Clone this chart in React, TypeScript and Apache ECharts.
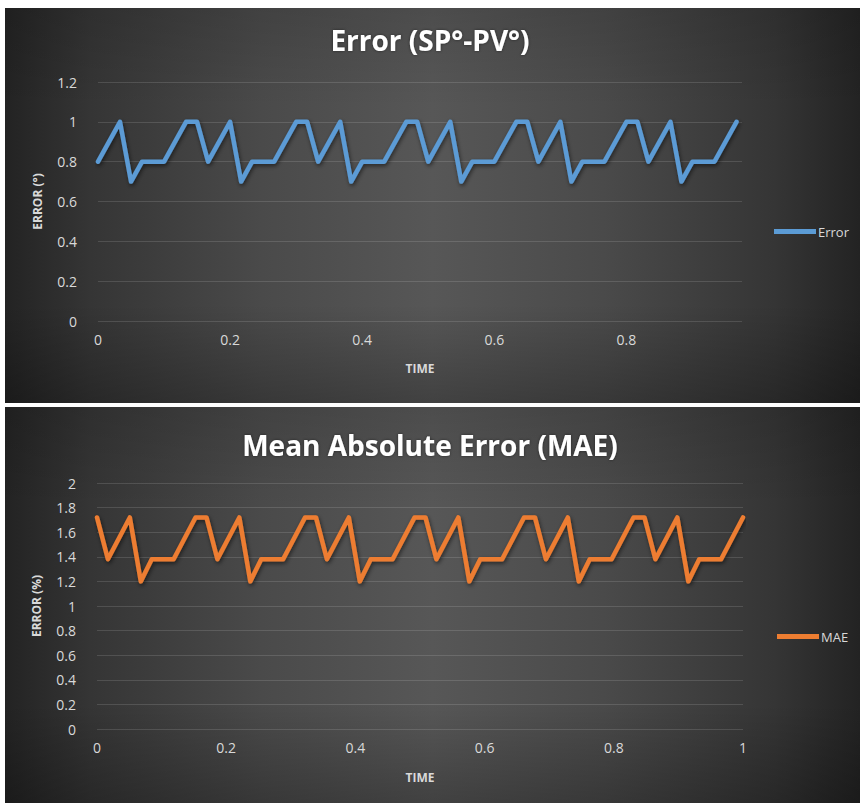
import React, { useEffect, useRef } from "react";
import * as echarts from "echarts";

// ---- Data ----
const ERROR_TIME = [
  0, 0.0333, 0.05, 0.0667, 0.1, 0.1333, 0.15,
  0.1667, 0.2, 0.2167, 0.2333, 0.2667, 0.3, 0.3167,
  0.3333, 0.3667, 0.3833, 0.4, 0.4333, 0.4667, 0.4833,
  0.5, 0.5333, 0.55, 0.5667, 0.6, 0.6333, 0.65,
  0.6667, 0.7, 0.7167, 0.7333, 0.7667, 0.8, 0.8167,
  0.8333, 0.8667, 0.8833, 0.9, 0.9333, 0.9667,
];
const ERROR_VALUES = [
  0.8, 1, 0.7, 0.8, 0.8, 1, 1,
  0.8, 1, 0.7, 0.8, 0.8, 1, 1,
  0.8, 1, 0.7, 0.8, 0.8, 1, 1,
  0.8, 1, 0.7, 0.8, 0.8, 1, 1,
  0.8, 1, 0.7, 0.8, 0.8, 1, 1,
  0.8, 1, 0.7, 0.8, 0.8, 1,
];

const MAE_TIME = [
  0, 0.0169, 0.0508, 0.0678, 0.0847, 0.1186, 0.1525,
  0.1695, 0.1864, 0.2203, 0.2373, 0.2542, 0.2881, 0.322,
  0.339, 0.3559, 0.3898, 0.4068, 0.4237, 0.4576, 0.4915,
  0.5085, 0.5254, 0.5593, 0.5763, 0.5932, 0.6271, 0.661,
  0.678, 0.6949, 0.7288, 0.7458, 0.7627, 0.7966, 0.8305,
  0.8475, 0.8644, 0.8983, 0.9153, 0.9322, 0.9661, 1,
];
const MAE_VALUES = [
  1.72, 1.38, 1.72, 1.2, 1.38, 1.38, 1.72,
  1.72, 1.38, 1.72, 1.2, 1.38, 1.38, 1.72,
  1.72, 1.38, 1.72, 1.2, 1.38, 1.38, 1.72,
  1.72, 1.38, 1.72, 1.2, 1.38, 1.38, 1.72,
  1.72, 1.38, 1.72, 1.2, 1.38, 1.38, 1.72,
  1.72, 1.38, 1.72, 1.2, 1.38, 1.38, 1.72,
];

const TITLES = ["Error (SP°-PV°)", "Mean Absolute Error (MAE)"];
const SERIES_NAMES = ["Error", "MAE"];
const Y_NAMES = ["ERROR (°)", "ERROR (%)"];
const X_NAME = "TIME";

const BLUE = "#5B9BD5";
const ORANGE = "#ED7D31";
const LABEL = "#d9d9d9";
const FONT = '"Open Sans", "Noto Sans", sans-serif';

function panel(x: number, y: number, w: number, h: number) {
  return [
    {
      type: "rect",
      z: -20,
      shape: { x, y, width: w, height: h },
      style: {
        fill: {
          type: "linear",
          x: 0, y: 0, x2: 1, y2: 0,
          colorStops: [
            { offset: 0, color: "#232323" },
            { offset: 0.1, color: "#353535" },
            { offset: 0.3, color: "#4a4a4a" },
            { offset: 0.5, color: "#575757" },
            { offset: 0.7, color: "#4a4a4a" },
            { offset: 0.9, color: "#353535" },
            { offset: 1, color: "#232323" },
          ],
        },
      },
    },
    {
      type: "rect",
      z: -19,
      shape: { x, y, width: w, height: h },
      style: {
        fill: {
          type: "linear",
          x: 0, y: 0, x2: 0, y2: 1,
          colorStops: [
            { offset: 0, color: "rgba(0,0,0,0.12)" },
            { offset: 0.25, color: "rgba(0,0,0,0)" },
            { offset: 0.75, color: "rgba(0,0,0,0)" },
            { offset: 1, color: "rgba(0,0,0,0.25)" },
          ],
        },
      },
    },
  ];
}

function makeXAxis(gridIndex: number, max: number, showMax: boolean, nameGap: number) {
  return {
    type: "value",
    gridIndex,
    min: 0,
    max,
    interval: 0.2,
    name: X_NAME,
    nameLocation: "middle",
    nameGap,
    nameTextStyle: { color: LABEL, fontSize: 12, fontWeight: "bold", fontFamily: FONT },
    axisLine: { show: false },
    axisTick: { show: false },
    splitLine: { show: false },
    axisLabel: {
      color: LABEL,
      fontSize: 14,
      fontFamily: FONT,
      margin: 11,
      showMaxLabel: showMax,
    },
  };
}

function makeYAxis(gridIndex: number, max: number, name: string) {
  return {
    type: "value",
    gridIndex,
    min: 0,
    max,
    interval: 0.2,
    name,
    nameLocation: "middle",
    nameGap: 55,
    nameTextStyle: { color: LABEL, fontSize: 12, fontWeight: "bold", fontFamily: FONT },
    axisLine: { show: false },
    axisTick: { show: false },
    splitLine: { show: true, lineStyle: { color: "rgba(255,255,255,0.13)", width: 1 } },
    axisLabel: { color: LABEL, fontSize: 14, fontFamily: FONT, margin: 21 },
  };
}

function makeSeries(name: string, idx: number, xs: number[], ys: number[], color: string) {
  return {
    type: "line",
    name,
    xAxisIndex: idx,
    yAxisIndex: idx,
    data: xs.map((t, i) => [t, ys[i]]),
    showSymbol: false,
    symbol: "none",
    color,
    lineStyle: {
      width: 4.5,
      color,
      cap: "round",
      join: "round",
      shadowColor: "rgba(0,0,0,0.55)",
      shadowBlur: 4,
      shadowOffsetX: 1,
      shadowOffsetY: 2,
    },
  };
}

function titleOpt(text: string, top: number) {
  return {
    text,
    left: "center",
    top,
    padding: 0,
    textStyle: {
      color: "#ffffff",
      fontSize: 28,
      fontWeight: "bold",
      fontFamily: FONT,
      lineHeight: 34,
      textShadowColor: "rgba(0,0,0,0.5)",
      textShadowBlur: 3,
    },
  };
}

export default function App() {
  const ref = useRef<HTMLDivElement>(null);

  useEffect(() => {
    if (!ref.current) return;
    const chart = echarts.init(ref.current, undefined, { renderer: "svg" });
    const option = {
      animation: false,
      backgroundColor: "#ffffff",
      graphic: [...panel(5, 8, 855, 395), ...panel(5, 407, 855, 396)],
      title: [titleOpt(TITLES[0], 23), titleOpt(TITLES[1], 428)],
      legend: [
        {
          data: [SERIES_NAMES[0]],
          left: 774,
          top: 225,
          padding: 0,
          icon: "rect",
          itemWidth: 42,
          itemHeight: 5,
          itemGap: 2,
          textStyle: { color: LABEL, fontSize: 13, fontFamily: FONT, padding: [0, 0, 0, -3] },
        },
        {
          data: [SERIES_NAMES[1]],
          left: 777,
          top: 630,
          padding: 0,
          icon: "rect",
          itemWidth: 42,
          itemHeight: 5,
          itemGap: 2,
          textStyle: { color: LABEL, fontSize: 13, fontFamily: FONT, padding: [0, 0, 0, -3] },
        },
      ],
      grid: [
        { left: 98, top: 82, width: 644, height: 239 },
        { left: 97, top: 483, width: 646, height: 246 },
      ],
      xAxis: [makeXAxis(0, 0.975, false, 41), makeXAxis(1, 1, true, 42)],
      yAxis: [makeYAxis(0, 1.2, Y_NAMES[0]), makeYAxis(1, 2, Y_NAMES[1])],
      series: [
        makeSeries(SERIES_NAMES[0], 0, ERROR_TIME, ERROR_VALUES, BLUE),
        makeSeries(SERIES_NAMES[1], 1, MAE_TIME, MAE_VALUES, ORANGE),
      ],
    };
    chart.setOption(option as any);
    return () => chart.dispose();
  }, []);

  return (
    <div
      ref={ref}
      style={{ position: "absolute", left: 0, top: 0, width: 860, height: 803 }}
    />
  );
}
